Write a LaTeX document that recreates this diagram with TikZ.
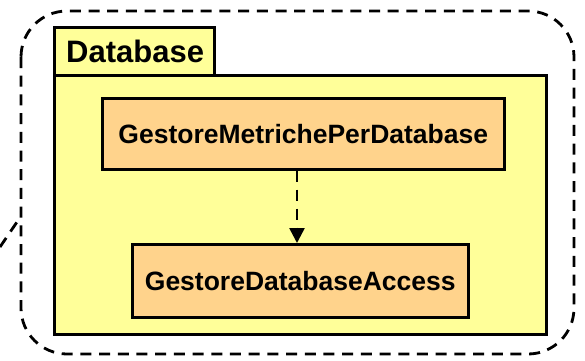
\documentclass[tikz,border=0pt]{standalone}
\usepackage{fontspec}
\setmainfont{Liberation Sans}
\usetikzlibrary{arrows.meta}
\definecolor{pkgyellow}{HTML}{FFFF99}
\definecolor{clsorange}{HTML}{FFD38C}
\begin{document}
\begin{tikzpicture}[x=1pt,y=-1pt,
  outline/.style={draw=black,line width=2.8pt,dash pattern=on 11pt off 7.7pt},
  pkg/.style={draw=black,line width=2.8pt,fill=pkgyellow},
  cls/.style={draw=black,line width=2.6pt,fill=clsorange,inner sep=0pt},
  lbl/.style={font=\fontsize{26.5}{30}\bfseries\selectfont,text=black},
  dep/.style={draw=black,line width=2.6pt,dash pattern=on 11pt off 8pt,
    -{Triangle[length=15pt,width=15pt]}}]
\useasboundingbox (0,0) rectangle (585,360);
% outer dashed boundary
\draw[outline,rounded corners=46pt] (21,11) rectangle (574,354);
\coordinate (e1) at (0,247);
\coordinate (e2) at (19,219);
\draw[outline] (e1) -- (e2);
% package tab and body
\node[pkg,anchor=north west,minimum width=160pt,minimum height=50pt,inner sep=0pt] (tab) at (53,26) {};
\node[pkg,anchor=north west,minimum width=492pt,minimum height=259pt,inner sep=0pt] (body) at (53,74) {};
\node[anchor=west,font=\fontsize{31}{34}\bfseries\selectfont,inner sep=0pt] (title) at (66,51) {Database};
% classes
\node[cls,lbl,anchor=north west,minimum width=402pt,minimum height=71pt] (gm) at (101,97) {GestoreMetrichePerDatabase};
\node[cls,lbl,anchor=north west,minimum width=336pt,minimum height=73pt] (gd) at (131,243) {GestoreDatabaseAccess};
% dependency
\draw[dep] (gm.south -| 297,0) -- (gd.north -| 297,0);
\end{tikzpicture}
\end{document}
